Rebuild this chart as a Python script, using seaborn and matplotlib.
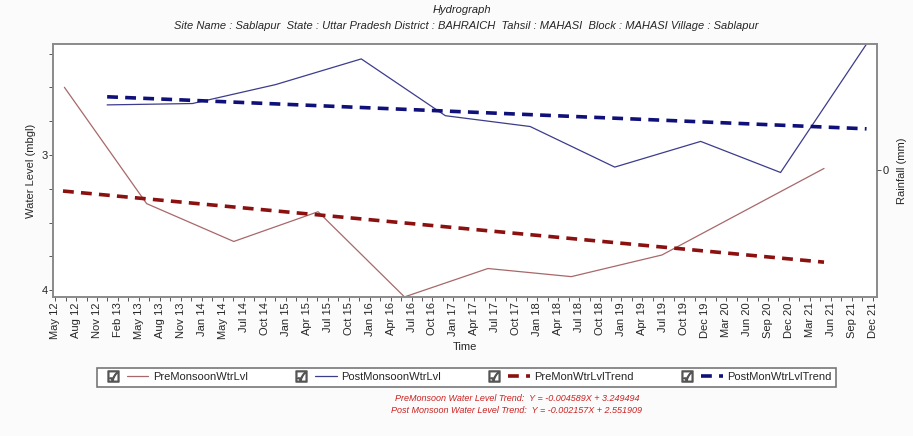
import pandas as pd
import numpy as np
import matplotlib
matplotlib.use("Agg")
import matplotlib.pyplot as plt
import matplotlib.dates as mdates
from matplotlib.lines import Line2D
from matplotlib.legend_handler import HandlerTuple
import seaborn as sns

# data (water level in m below ground)
pre_dates = ["2012-06-10", "2013-05-28", "2014-06-05", "2015-06-01", "2016-06-05",
             "2017-05-28", "2018-05-20", "2019-06-12", "2021-05-06"]
pre_level = [2.50, 3.36, 3.64, 3.42, 4.05, 3.84, 3.90, 3.74, 3.10]

post_dates = ["2012-12-10", "2013-12-10", "2014-12-01", "2015-12-03", "2016-11-27",
              "2017-11-25", "2018-11-22", "2019-11-25", "2020-11-01", "2021-11-04"]
post_level = [2.63, 2.62, 2.48, 2.29, 2.71, 2.79, 3.09, 2.90, 3.13, 2.18]

pre_trend_dates = ["2012-06-04", "2021-05-06"]
pre_trend_level = [3.267, 3.793]
post_trend_dates = ["2012-12-10", "2021-11-04"]
post_trend_level = [2.570, 2.807]

tick_labels = ["May 12", "Aug 12", "Nov 12", "Feb 13", "May 13", "Aug 13", "Nov 13", "Jan 14",
               "May 14", "Jul 14", "Oct 14", "Jan 15", "Apr 15", "Jul 15", "Oct 15", "Jan 16",
               "Apr 16", "Jul 16", "Oct 16", "Jan 17", "Apr 17", "Jul 17", "Oct 17", "Jan 18",
               "Apr 18", "Jul 18", "Oct 18", "Jan 19", "Apr 19", "Jul 19", "Oct 19", "Dec 19",
               "Mar 20", "Jun 20", "Sep 20", "Dec 20", "Mar 21", "Jun 21", "Sep 21", "Dec 21"]

pre = pd.DataFrame({"date": pd.to_datetime(pre_dates), "level": pre_level})
post = pd.DataFrame({"date": pd.to_datetime(post_dates), "level": post_level})
pre_tr = pd.DataFrame({"date": pd.to_datetime(pre_trend_dates), "level": pre_trend_level})
post_tr = pd.DataFrame({"date": pd.to_datetime(post_trend_dates), "level": post_trend_level})

sns.set_style("white")
plt.rcParams["font.family"] = ["Liberation Sans", "DejaVu Sans"]

c_pre = "#a8686a"
c_post = "#3c3c8c"
c_pre_tr = "#8b1010"
c_post_tr = "#10107a"

fig = plt.figure(figsize=(9.13, 4.36), dpi=100, facecolor="#fbfbfb")
ax = fig.add_axes([0.058, 0.319, 0.9026, 0.58])
ax.set_facecolor("white")

sns.lineplot(data=pre, x="date", y="level", ax=ax, color=c_pre, linewidth=0.9)
sns.lineplot(data=post, x="date", y="level", ax=ax, color=c_post, linewidth=0.9)
sns.lineplot(data=pre_tr, x="date", y="level", ax=ax, color=c_pre_tr, linewidth=2.6,
             linestyle=(0, (3, 2)))
sns.lineplot(data=post_tr, x="date", y="level", ax=ax, color=c_post_tr, linewidth=2.6,
             linestyle=(0, (3, 2)))

# evenly spaced time ticks
t0 = mdates.date2num(pd.Timestamp("2012-05-01"))
t1 = mdates.date2num(pd.Timestamp("2021-12-01"))
ticks = np.linspace(t0, t1, len(tick_labels))
step = ticks[1] - ticks[0]
ax.set_xticks(ticks)
ax.set_xticklabels(tick_labels, rotation=90, fontsize=8)
ax.set_xticks(ticks[:-1] + step / 2, minor=True)
ax.set_xlim(t0 - 0.1 * step, t1 + 0.2 * step)

ax.set_ylim(4.05, 2.18)
ax.set_yticks([3, 4])
ax.set_yticklabels(["3", "4"], fontsize=8)
ax.set_yticks([2.25, 2.5, 2.75, 3.25, 3.5, 3.75], minor=True)
ax.tick_params(axis="both", which="both", direction="out", length=3, width=0.7,
               color="#555555", left=True, bottom=True, pad=1)
ax.set_xlabel("Time", fontsize=8, labelpad=2)
ax.set_ylabel("Water Level (mbgl)", fontsize=8, labelpad=4)
for s in ax.spines.values():
    s.set_color("#8a8a8a")
    s.set_linewidth(1.4)

ax2 = ax.twinx()
ax2.set_ylim(-1, 1)
ax2.set_yticks([0])
ax2.set_yticklabels(["0"], fontsize=8)
ax2.tick_params(axis="y", direction="out", length=3, width=0.7, color="#555555", pad=1)
ax2.set_ylabel("Rainfall (mm)", fontsize=8, labelpad=6)
for s in ax2.spines.values():
    s.set_visible(False)

fig.text(0.506, 0.977, "Hydrograph", ha="center", va="center", fontsize=8, style="italic")
fig.text(0.511, 0.94, "Site Name : Sablapur  State : Uttar Pradesh District : BAHRAICH  "
         "Tahsil : MAHASI  Block : MAHASI Village : Sablapur",
         ha="center", va="center", fontsize=8, style="italic")

box = Line2D([], [], linestyle="none", marker="$\u2611$", markersize=8, color="#555555")
h_pre = Line2D([], [], color=c_pre, linewidth=0.9)
h_post = Line2D([], [], color=c_post, linewidth=0.9)
h_pre_tr = Line2D([], [], color=c_pre_tr, linewidth=2.6, linestyle=(0, (3, 2)))
h_post_tr = Line2D([], [], color=c_post_tr, linewidth=2.6, linestyle=(0, (3, 2)))
leg = fig.legend([(box, h_pre), (box, h_post), (box, h_pre_tr), (box, h_post_tr)],
                 ["PreMonsoonWtrLvl", "PostMonsoonWtrLvl", "PreMonWtrLvlTrend", "PostMonWtrLvlTrend"],
                 handler_map={tuple: HandlerTuple(ndivide=None, pad=0.3)},
                 loc="center", bbox_to_anchor=(0.511, 0.135), ncol=4, fontsize=8,
                 handlelength=4.2, handletextpad=0.4, columnspacing=3.8,
                 fancybox=False, borderpad=0.4, framealpha=1)
leg.get_frame().set_edgecolor("#777777")
leg.get_frame().set_linewidth(1.2)

fig.text(0.566, 0.085, "PreMonsoon Water Level Trend:  Y = -0.004589X + 3.249494",
         ha="center", va="center", fontsize=6.5, style="italic", color="#cc2222")
fig.text(0.566, 0.058, "Post Monsoon Water Level Trend:  Y = -0.002157X + 2.551909",
         ha="center", va="center", fontsize=6.5, style="italic", color="#cc2222")

fig.savefig("out.png", dpi=100, facecolor=fig.get_facecolor())
